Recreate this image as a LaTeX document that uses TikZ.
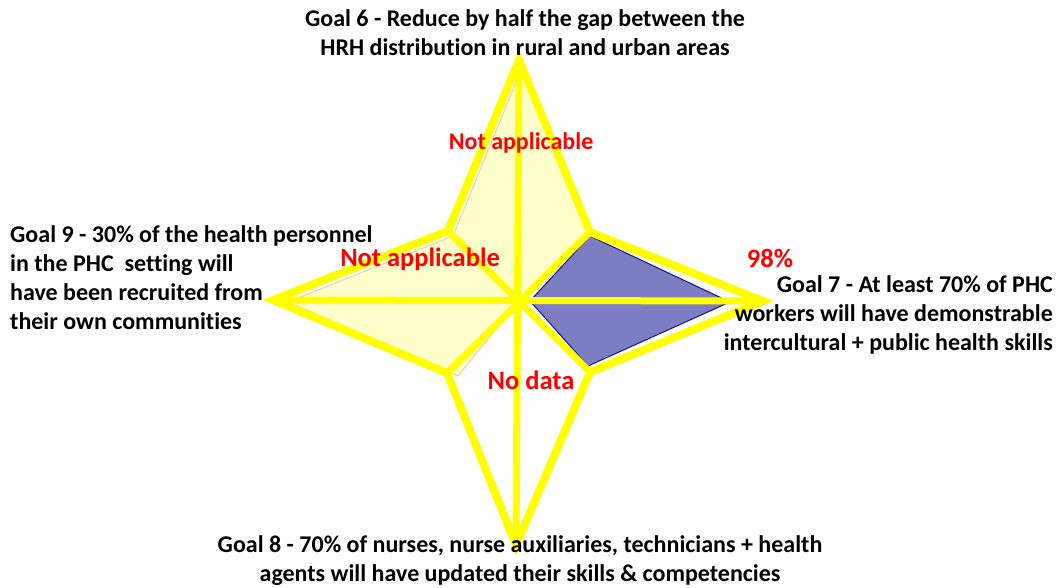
\documentclass[tikz,border=0pt]{standalone}
\usepackage{fontspec}
\setmainfont{Carlito}[Ligatures=NoCommon]
\definecolor{ylw}{RGB}{255,255,0}
\definecolor{lightfill}{RGB}{255,255,204}
\definecolor{peach}{RGB}{250,200,170}
\definecolor{bluefill}{RGB}{125,125,195}
\definecolor{navy}{RGB}{20,20,130}
\definecolor{redtxt}{RGB}{255,0,0}
\tikzset{
  goal/.style={font=\bfseries\fontsize{24}{29}\selectfont, text=black, inner sep=0pt},
  redlab/.style={font=\bfseries\fontsize{26.5}{30}\selectfont, text=redtxt, inner sep=0pt},
  redsmall/.style={redlab, font=\bfseries\fontsize{24}{28}\selectfont},
  starline/.style={draw=ylw, line width=8pt, line join=miter, miter limit=20},
  spoke/.style={draw=ylw, line width=7pt},
}
\begin{document}
\begin{tikzpicture}[x=1pt,y=-1pt]
\useasboundingbox (0,0) rectangle (1061,588);
% axes points
\coordinate (c) at (518,302);
\coordinate (t) at (519,60);
\coordinate (b) at (516,545);
\coordinate (l) at (273,300);
\coordinate (r) at (763,301);
\coordinate (ul) at (448,231);
\coordinate (ur) at (590,232);
\coordinate (ll) at (447,373);
\coordinate (lr) at (590,372);
% data series
\filldraw[fill=lightfill, draw=peach, line width=1pt]
  (519,64) -- (590,232) -- (518,302) -- (458,376) -- (288,302) -- (453,236) -- (516,82) -- cycle;
\filldraw[fill=bluefill, draw=navy, line width=1pt]
  (590,236) -- (730,302) -- (588,366) -- (530,301) -- cycle;
% spokes
\draw[spoke] (t) -- (b);
\draw[spoke] (l) -- (r);
\draw[spoke] (ul) -- (lr);
\draw[spoke] (ur) -- (ll);
% outline star
\draw[starline] (t) -- (ur) -- (r) -- (lr) -- (b) -- (ll) -- (l) -- (ul) -- cycle;
% goal labels
\node[goal, align=center] (g6) at (525,33) {Goal 6 - Reduce by half the gap between the\\HRH distribution in rural and urban areas};
\node[goal, align=left, anchor=west] (g9) at (10,278) {Goal 9 - 30\% of the health personnel\\in the PHC\ \ setting will\\have been recruited from\\their own communities};
\node[goal, align=right, anchor=east] (g7) at (1053,315) {Goal 7 - At least 70\% of PHC\\workers will have demonstrable\\intercultural + public health skills};
\node[goal, align=center] (g8) at (520,561) {Goal 8 - 70\% of nurses, nurse auxiliaries, technicians + health\\agents will have updated their skills \& competencies};
% red labels
\node[redsmall] (na6) at (521,143) {Not applicable};
\node[redlab] (na9) at (420,259) {Not applicable};
\node[redlab] (p98) at (770,258) {98\%};
\node[redlab] (nd8) at (531,380) {No data};
\end{tikzpicture}
\end{document}
